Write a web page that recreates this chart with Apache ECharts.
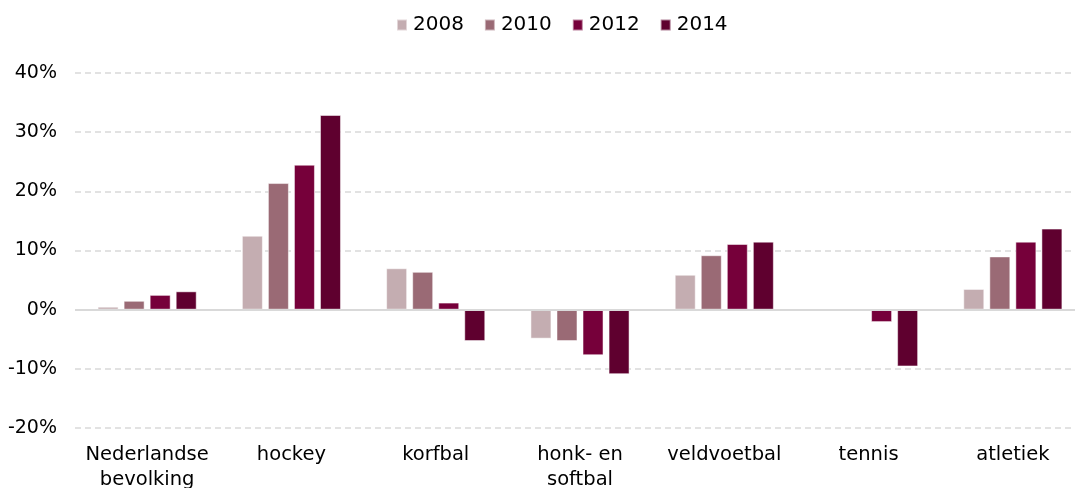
<!DOCTYPE html>
<html><head><meta charset="utf-8">
<script src="https://cdn.jsdelivr.net/npm/echarts@6/dist/echarts.min.js"></script>
<style>html,body{margin:0;padding:0;background:#fff}#c{width:1075px;height:488px}</style>
</head><body><div id="c"></div>
<script>
var categories = ['Nederlandse\nbevolking','hockey','korfbal','honk- en\nsoftbal','veldvoetbal','tennis','atletiek'];
var seriesNames = ['2008','2010','2012','2014'];
var v2008 = [0.5, 12.5, 7.0, -4.9, 5.9, null, 3.5];
var v2010 = [1.5, 21.4, 6.4, -5.3, 9.2, null, 9.0];
var v2012 = [2.5, 24.5, 1.2, -7.7, 11.1, -2.1, 11.5];
var v2014 = [3.1, 32.9, -5.3, -10.9, 11.5, -9.6, 13.7];
var yTicks = [-20, -10, 0, 10, 20, 30, 40];
var colors = ['#c4adb1','#9a6a75','#76003a','#5f002f'];
var font = 'DejaVu Sans';
var data = [v2008, v2010, v2012, v2014];
var chart = echarts.init(document.getElementById('c'));
chart.setOption({
  animation: false,
  color: colors,
  legend: {
    top: 10, left: 391, itemWidth: 10, itemHeight: 11, itemGap: 20,
    icon: 'rect',
    textStyle: {fontFamily: font, fontSize: 20, color: '#000', padding: [0,0,0,1]},
    data: seriesNames
  },
  grid: {left: 75, width: 1010, top: 73, bottom: 60, containLabel: false, outerBoundsMode: 'none'},
  xAxis: {
    type: 'category', data: categories,
    axisLine: {show: false}, axisTick: {show: false},
    axisLabel: {fontFamily: font, fontSize: 19.5, color: '#000', margin: 14, lineHeight: 25, interval: 0}
  },
  yAxis: {
    type: 'value', min: yTicks[0], max: yTicks[yTicks.length-1], interval: 10,
    axisLine: {show: false}, axisTick: {show: false},
    axisLabel: {fontFamily: font, fontSize: 19, color: '#000', margin: 18, formatter: '{value}%'},
    splitLine: {lineStyle: {color: '#d9d9d9', type: [6,4], width: 1.5}}
  },
  series: seriesNames.map(function(n, i){
    return {
      name: n, type: 'bar', data: data[i], barWidth: 21, barGap: '24%',
      itemStyle: {borderColor: 'rgba(255,255,255,0.5)', borderWidth: 1},
      markLine: i === 0 ? {silent: true, symbol: 'none', label: {show: false},
        lineStyle: {color: '#d9d9d9', type: 'solid', width: 2}, data: [{yAxis: 0}]} : undefined,
      z: 3
    };
  })
});
</script></body></html>
